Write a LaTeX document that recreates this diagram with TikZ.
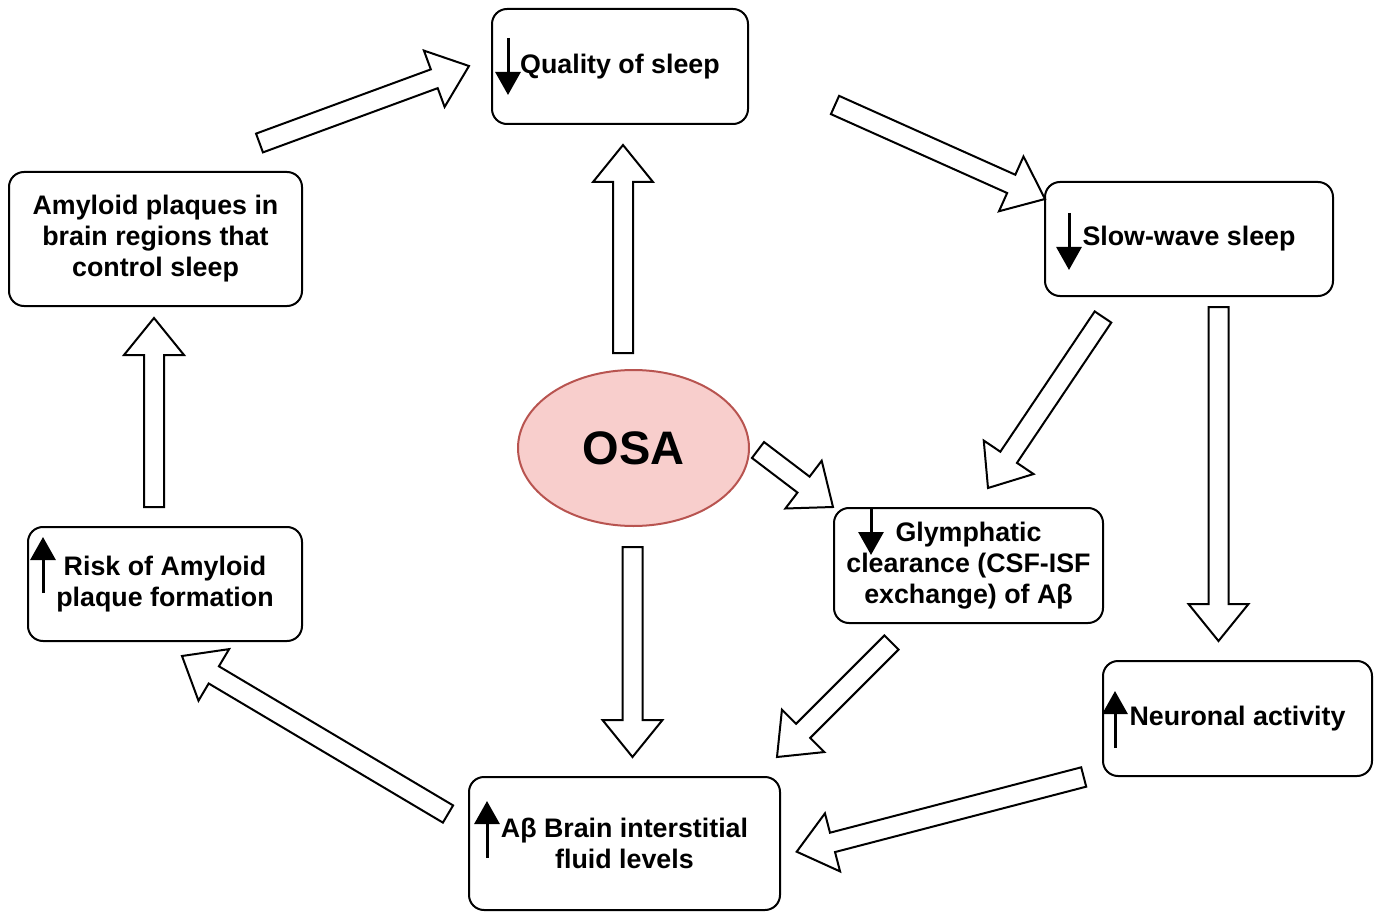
\documentclass[tikz,border=0pt]{standalone}
\usepackage{fontspec}
\setmainfont{Liberation Sans}
\usetikzlibrary{calc,arrows.meta,shapes.geometric}
\definecolor{osafill}{HTML}{F8CECC}
\definecolor{osaline}{HTML}{B85450}
\newcommand{\shaftw}{5pt}
\newcommand{\headw}{15pt}
\newcommand{\headlen}{18.5pt}
% hollow block arrow from #1 (base) to #2 (tip)
\newcommand{\hollowarrow}[2]{%
  \coordinate (neck) at ($(#2)!\headlen!(#1)$);
  \draw[hollow] ($(#1)!\shaftw!90:(#2)$) -- ($(neck)!\shaftw!90:(#2)$)
    -- ($(neck)!\headw!90:(#2)$) -- (#2) -- ($(neck)!\headw!-90:(#2)$)
    -- ($(neck)!\shaftw!-90:(#2)$) -- ($(#1)!\shaftw!-90:(#2)$) -- cycle;}

\begin{document}
\begin{tikzpicture}[x=0.5pt, y=-0.5pt,
  box/.style={draw, line width=1pt, rounded corners=7.5pt, fill=white, align=center,
    inner sep=0pt, font=\bfseries\fontsize{13.4}{15.5}\selectfont},
  hollow/.style={draw=black, fill=white, line width=1pt, line join=miter},
  txtarrow/.style={line width=1.5pt, -{Triangle[length=11.5pt,width=12.5pt]}}]
\useasboundingbox (0,0) rectangle (1383,915);

\node[box, minimum width=128pt, minimum height=57.5pt] (quality) at (620,66.5) {Quality of sleep};
\node[box, minimum width=144pt, minimum height=57pt] (slowwave) at (1189,239) {Slow-wave sleep};
\node[box, minimum width=146.5pt, minimum height=67pt] (plaques) at (155.5,239) {Amyloid plaques in\\brain regions that\\control sleep};
\node[box, minimum width=137pt, minimum height=57pt] (risk) at (165,584) {Risk of Amyloid\\plaque formation};
\node[box, minimum width=134.5pt, minimum height=57.5pt] (glymph) at (968.5,565.5) {Glymphatic\\clearance (CSF-ISF\\exchange) of Aβ};
\node[box, minimum width=134.5pt, minimum height=57.5pt] (neuronal) at (1237.5,718.5) {Neuronal activity};
\node[box, minimum width=155.5pt, minimum height=66.5pt] (abeta) at (624.5,843.5) {Aβ Brain interstitial\\fluid levels};
\node[ellipse, draw=osaline, fill=osafill, line width=1pt, inner sep=0pt,
  minimum width=115.5pt, minimum height=78pt,
  font=\bfseries\fontsize{23.5}{28}\selectfont] (osa) at (633.5,448) {OSA};

% up / down marks in the boxes
\draw[txtarrow] ($(quality.west)+(17,-28.5)$) -- ++(0,57);
\draw[txtarrow] ($(slowwave.west)+(25,-26)$) -- ++(0,57);
\draw[txtarrow] ($(glymph.west)+(38,-56.5)$) -- ++(0,46);
\draw[txtarrow] ($(neuronal.west)+(13,29.5)$) -- ++(0,-57);
\draw[txtarrow] ($(abeta.west)+(19,14.5)$) -- ++(0,-57);
\draw[txtarrow] ($(risk.west)+(16,9)$) -- ++(0,-56);

\coordinate (pq0) at (259.5,143);  \coordinate (pq1) at (469,66);
\coordinate (qs0) at (835,105);    \coordinate (qs1) at (1045,199);
\coordinate (oq0) at (623,353);    \coordinate (oq1) at (623,145);
\coordinate (sg0) at (1103,317);   \coordinate (sg1) at (988,488);
\coordinate (sn0) at (1218.5,307); \coordinate (sn1) at (1218.5,641);
\coordinate (og0) at (758,450);    \coordinate (og1) at (833,507);
\coordinate (oa0) at (632.5,547);  \coordinate (oa1) at (632.5,757);
\coordinate (ga0) at (891.5,642.5);\coordinate (ga1) at (777,757);
\coordinate (na0) at (1083.7,777); \coordinate (na1) at (796.7,851.7);
\coordinate (ar0) at (448,814);    \coordinate (ar1) at (182,656);
\coordinate (rp0) at (154,507);    \coordinate (rp1) at (154,318);

\foreach \a/\b in {pq0/pq1, qs0/qs1, oq0/oq1, sg0/sg1, sn0/sn1, og0/og1,
  oa0/oa1, ga0/ga1, na0/na1, ar0/ar1, rp0/rp1}
  \hollowarrow{\a}{\b};

\end{tikzpicture}
\end{document}
